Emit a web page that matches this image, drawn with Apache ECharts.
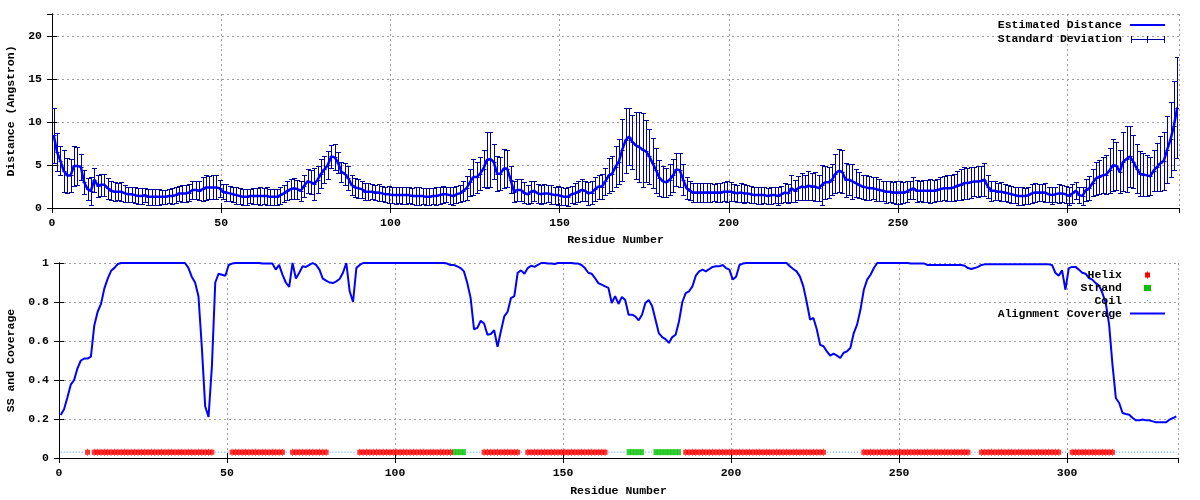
<!DOCTYPE html>
<html><head><meta charset="utf-8">
<script src="https://cdn.jsdelivr.net/npm/echarts@6/dist/echarts.min.js"></script>
<style>html,body{margin:0;padding:0;background:#fff}#c{width:1200px;height:500px}</style>
</head><body><div id="c"></div><script>
// Estimated distance per residue (residues 1..333)
const distance = [
8.5,6.5,5.5,4.3,3.8,3.8,4.9,4.9,4.8,3.0,
2.2,2.0,3.3,2.6,2.7,2.7,2.3,2.0,1.9,1.9,
1.9,1.7,1.6,1.6,1.5,1.4,1.4,1.5,1.3,1.3,
1.3,1.3,1.3,1.3,1.4,1.4,1.5,1.7,1.7,1.7,
1.8,2.1,2.1,2.0,2.2,2.4,2.4,2.4,2.4,2.3,
1.9,1.8,1.7,1.6,1.5,1.4,1.3,1.3,1.4,1.4,
1.4,1.4,1.4,1.4,1.3,1.3,1.3,1.5,1.7,2.0,
2.2,2.3,2.2,2.0,2.6,3.1,3.0,2.8,3.3,4.0,
4.5,5.0,6.0,5.9,5.3,4.2,4.0,3.5,2.7,2.4,
2.3,2.2,1.9,1.9,1.9,1.8,1.8,1.7,1.6,1.6,
1.5,1.5,1.5,1.5,1.5,1.5,1.4,1.4,1.4,1.4,
1.3,1.3,1.4,1.4,1.5,1.6,1.6,1.5,1.4,1.6,
1.7,2.0,2.3,3.0,3.6,3.6,4.0,4.6,5.6,5.7,
5.4,4.0,4.0,4.6,4.6,3.3,1.9,2.1,2.1,1.8,
1.6,1.9,2.0,1.7,1.6,1.7,1.7,1.6,1.5,1.5,
1.4,1.3,1.3,1.6,1.7,1.9,2.1,2.0,1.7,1.8,
2.2,2.5,2.5,3.1,3.8,4.0,4.8,5.4,6.8,7.9,
8.3,7.7,7.3,7.1,6.8,6.6,6.0,5.2,4.4,3.5,
3.1,3.0,3.3,3.8,4.5,4.4,3.3,2.3,2.0,1.8,
1.8,1.8,1.8,1.8,1.8,1.8,1.8,1.8,1.9,1.9,
1.9,1.8,1.7,1.8,1.7,1.7,1.6,1.5,1.5,1.5,
1.5,1.4,1.5,1.5,1.4,1.6,1.8,1.7,2.3,2.0,
2.3,2.5,2.4,2.6,2.5,2.5,2.3,2.7,3.0,3.0,
3.3,4.0,4.35,4.2,3.3,3.3,3.1,2.9,2.7,2.5,
2.4,2.3,2.3,2.2,2.1,2.0,1.9,1.9,1.8,1.8,
1.8,1.8,1.9,2.1,2.3,2.0,2.0,2.0,2.0,2.0,
2.0,2.1,2.2,2.3,2.3,2.3,2.4,2.6,2.7,2.9,
2.9,3.0,3.1,3.1,3.15,3.3,2.5,2.0,2.0,1.9,
1.9,1.8,1.7,1.6,1.5,1.4,1.4,1.4,1.5,1.7,
1.8,1.8,1.8,1.8,1.6,1.5,1.6,1.7,1.7,1.6,
1.4,1.7,2.0,1.5,1.4,2.1,2.3,2.95,3.45,3.65,
3.8,3.9,4.4,5.0,4.9,4.2,5.4,5.7,6.0,5.4,
4.6,4.0,3.9,3.8,3.7,4.35,4.8,5.2,5.5,6.8,
8.0,9.6,11.7
];
// Standard deviation per residue
const stdev = [
3.2,2.2,1.7,2.4,2.0,1.9,2.3,2.2,1.5,1.4,
1.3,1.6,1.4,1.3,1.3,1.3,1.2,1.1,1.1,1.0,
1.1,1.0,0.9,0.9,0.9,0.9,0.9,0.8,0.9,0.9,
0.9,0.9,0.8,0.8,0.8,0.9,0.9,0.9,1.0,1.0,
1.0,1.1,1.0,1.1,1.4,1.5,1.3,1.4,1.4,1.0,
0.9,1.0,0.9,0.9,1.0,0.9,0.9,0.9,0.8,0.9,
0.9,1.0,0.9,1.0,0.9,0.9,0.9,1.0,1.0,1.1,
1.2,1.2,1.1,1.2,1.3,1.4,1.4,1.9,1.6,1.7,
1.6,1.6,1.3,1.5,1.2,1.2,1.3,1.4,1.2,1.1,
1.1,1.0,1.0,1.0,0.9,0.9,1.0,0.9,0.9,1.0,
0.9,1.0,0.9,1.0,1.0,0.9,0.9,1.0,1.0,0.9,
1.0,1.0,0.9,1.1,1.0,1.0,0.9,1.0,1.1,1.0,
1.0,1.2,1.4,1.6,2.1,1.8,1.9,2.2,3.3,3.2,
2.0,2.0,1.9,2.3,2.2,1.6,1.2,1.3,1.3,1.2,
1.1,1.3,1.2,1.1,1.1,1.1,1.0,1.1,1.0,1.1,
1.1,1.0,1.1,1.0,1.2,1.2,1.3,1.2,1.3,1.3,
1.4,1.4,1.5,1.6,2.0,2.0,2.4,2.6,3.6,3.8,
3.3,3.1,3.9,4.1,4.3,3.6,3.2,2.9,2.6,2.1,
1.8,1.7,1.8,1.9,1.9,2.0,1.8,1.3,1.1,1.1,
1.1,1.1,1.1,1.1,1.1,1.0,1.1,1.1,1.1,1.2,
1.1,1.0,1.0,1.1,1.1,1.0,1.0,0.9,1.0,1.0,
0.9,0.9,1.0,0.9,1.0,1.0,1.1,1.1,1.6,1.3,
1.4,1.6,1.5,1.7,1.6,1.7,1.5,2.3,1.9,1.8,
1.8,2.3,2.5,2.5,2.0,1.8,2.0,1.6,1.5,1.4,
1.5,1.4,1.3,1.4,1.3,1.2,1.3,1.2,1.2,1.3,
1.3,1.2,1.2,1.1,1.3,1.3,1.2,1.3,1.3,1.4,
1.3,1.3,1.4,1.4,1.5,1.5,1.6,1.7,1.8,1.9,
1.8,1.8,1.7,1.8,1.8,1.9,1.3,1.2,1.1,1.0,
1.1,1.0,1.0,1.0,0.9,1.0,1.0,0.9,1.0,1.1,
1.1,1.0,1.0,1.1,0.9,1.0,0.9,1.1,1.0,1.0,
1.0,1.1,1.0,0.9,1.0,1.3,1.4,1.6,1.9,2.0,
2.1,2.3,2.6,3.0,2.8,2.5,3.4,3.8,3.6,3.1,
2.9,2.6,2.5,2.4,2.2,2.4,2.8,3.2,3.4,3.9,
4.4,5.2,5.9
];
// Alignment coverage per residue
const coverage = [
0.22,0.25,0.31,0.376,0.40,0.46,0.50,0.51,0.51,0.52,
0.68,0.75,0.79,0.87,0.92,0.96,0.975,0.995,1.0,1.0,
1.0,1.0,1.0,1.0,1.0,1.0,1.0,1.0,1.0,1.0,
1.0,1.0,1.0,1.0,1.0,1.0,1.0,1.0,0.975,0.93,
0.90,0.83,0.57,0.265,0.21,0.47,0.90,0.945,0.94,0.935,
0.99,0.997,1.0,1.0,1.0,1.0,1.0,1.0,1.0,1.0,
0.997,0.997,0.997,0.997,0.966,0.99,0.94,0.90,0.877,1.0,
0.92,0.95,0.983,0.98,0.99,1.0,0.99,0.966,0.92,0.91,
0.90,0.897,0.906,0.918,0.95,1.0,0.855,0.80,0.975,0.99,
1.0,1.0,1.0,1.0,1.0,1.0,1.0,1.0,1.0,1.0,
1.0,1.0,1.0,1.0,1.0,1.0,1.0,1.0,1.0,1.0,
1.0,1.0,1.0,1.0,1.0,0.997,0.99,0.99,0.983,0.974,
0.957,0.897,0.82,0.66,0.667,0.704,0.69,0.632,0.636,0.655,
0.57,0.65,0.726,0.75,0.82,0.83,0.95,0.962,0.945,0.974,
0.986,0.98,0.99,1.0,1.0,0.997,0.997,0.995,1.0,1.0,
1.0,1.0,1.0,0.997,0.997,0.99,0.974,0.95,0.945,0.923,
0.897,0.889,0.88,0.872,0.795,0.83,0.79,0.826,0.81,0.735,
0.735,0.726,0.706,0.735,0.795,0.81,0.78,0.71,0.64,0.62,
0.61,0.59,0.62,0.632,0.70,0.80,0.846,0.855,0.88,0.935,
0.957,0.966,0.957,0.969,0.98,0.983,0.983,0.99,0.974,0.966,
0.915,0.93,0.99,0.997,1.0,1.0,1.0,1.0,1.0,1.0,
1.0,1.0,1.0,1.0,1.0,1.0,1.0,0.983,0.969,0.957,
0.93,0.88,0.80,0.71,0.718,0.66,0.58,0.573,0.547,0.525,
0.535,0.525,0.513,0.54,0.547,0.564,0.64,0.684,0.76,0.863,
0.915,0.94,0.974,1.0,1.0,1.0,1.0,1.0,1.0,1.0,
1.0,1.0,1.0,0.997,0.997,0.997,0.997,0.997,0.99,0.99,
0.99,0.99,0.99,0.99,0.99,0.99,0.99,0.99,0.99,0.986,
0.974,0.969,0.974,0.98,0.99,0.993,0.993,0.993,0.993,0.993,
0.993,0.993,0.993,0.993,0.993,0.993,0.993,0.993,0.993,0.993,
0.993,0.993,0.993,0.993,0.993,0.99,0.95,0.935,0.962,0.863,
0.974,0.98,0.98,0.966,0.95,0.945,0.923,0.915,0.897,0.884,
0.846,0.795,0.684,0.479,0.308,0.282,0.231,0.226,0.222,0.205,
0.193,0.193,0.197,0.193,0.193,0.188,0.183,0.183,0.183,0.183,
0.197,0.205,0.214
];
// Secondary structure segments [first residue, last residue]
const helixRanges = [[9,9],[11,46],[52,67],[70,80],[90,117],[127,137],[140,163],[187,228],[240,271],[275,298],[302,314]];
const strandRanges = [[118,121],[170,174],[178,185]];
const ssLevel = 0.03;
const residueCount = 333;
// residues are drawn centred on their slot: residue n sits at n - 0.5 on the axis
const slot = (n) => n - 0.5;

// ---- build series data from the arrays ----
const distData = distance.map((v, i) => [slot(i + 1), v]);
const errData = distance.map((v, i) => [slot(i + 1), v - stdev[i], v + stdev[i], v]);
const covData = coverage.map((v, i) => [slot(i + 1), v]);
const ssType = new Array(residueCount + 1).fill('C');
helixRanges.forEach(([a, b]) => { for (let r = a; r <= b; r++) ssType[r] = 'H'; });
strandRanges.forEach(([a, b]) => { for (let r = a; r <= b; r++) ssType[r] = 'S'; });
const helixData = [], strandData = [], coilData = [];
for (let r = 1; r <= residueCount; r++) {
  if (ssType[r] === 'H') helixData.push([slot(r), ssLevel]);
  if (ssType[r] === 'S') strandData.push([slot(r), ssLevel]);
  coilData.push([slot(r), ssType[r] === 'C' ? ssLevel : '-']);
}

const FONT = 'Liberation Mono';
const txt = { fontFamily: FONT, fontSize: 11.5, fontWeight: 'bold', color: '#000' };
const gridLine = { show: true, lineStyle: { color: '#a0a0a0', width: 1, type: [2, 3] } };
const tickIn = { show: true, inside: true, length: 5, lineStyle: { color: '#000' } };
const axLine = { show: true, lineStyle: { color: '#000', width: 1 } };

function mainX(grid, name, gap) {
  return { type: 'value', gridIndex: grid, min: 0, max: residueCount, interval: 50,
    name: name, nameLocation: 'middle', nameGap: gap, nameTextStyle: txt,
    axisLine: axLine, axisTick: tickIn, splitLine: gridLine,
    axisLabel: Object.assign({ margin: 9, showMaxLabel: false }, txt) };
}
function mirrorX(grid) {
  return { type: 'value', gridIndex: grid, position: 'top', min: 0, max: residueCount, interval: 50,
    axisLine: axLine, axisTick: tickIn, splitLine: { show: false }, axisLabel: { show: false } };
}
function mainY(grid, min, max, interval, name, gap, showMax) {
  return { type: 'value', gridIndex: grid, min: min, max: max, interval: interval,
    name: name, nameLocation: 'middle', nameGap: gap, nameRotate: 90, nameTextStyle: txt,
    axisLine: axLine, axisTick: tickIn, splitLine: gridLine,
    axisLabel: Object.assign({ margin: 10, showMaxLabel: showMax }, txt) };
}
function mirrorY(grid, min, max, interval) {
  return { type: 'value', gridIndex: grid, position: 'right', min: min, max: max, interval: interval,
    axisLine: axLine, axisTick: tickIn, splitLine: { show: false }, axisLabel: { show: false } };
}

function renderErr(params, api) {
  const x = api.value(0);
  const a = api.coord([x, api.value(1)]);
  const b = api.coord([x, api.value(2)]);
  const c = api.coord([x, api.value(3)]);
  const X = Math.round(a[0]) + 0.5;
  const w = 2.5;
  const st = { stroke: '#00009c', lineWidth: 1, fill: null };
  const ya = Math.round(a[1]) + 0.5, yb = Math.round(b[1]) + 0.5, yc = Math.round(c[1]) + 0.5;
  return { type: 'group', children: [
    { type: 'line', shape: { x1: X, y1: ya, x2: X, y2: yb }, style: st },
    { type: 'line', shape: { x1: X - w, y1: ya, x2: X + w, y2: ya }, style: st },
    { type: 'line', shape: { x1: X - w, y1: yb, x2: X + w, y2: yb }, style: st },
    { type: 'line', shape: { x1: X - 2, y1: yc, x2: X + 2, y2: yc }, style: st }
  ] };
}

const helixSymbol = 'path://M0,1 L2,1 L2,0 L3,0 L3,1 L5,1 L5,6 L3,6 L3,7 L2,7 L2,6 L0,6 Z';
const helixPoly = (x, y) => [[0,1],[2,1],[2,0],[3,0],[3,1],[5,1],[5,6],[3,6],[3,7],[2,7],[2,6],[0,6]].map(p => [p[0] + x, p[1] + y]);

const legendText = (x, y, s) => ({ type: 'text', x: x, y: y, style: { text: s, textAlign: 'right', textVerticalAlign: 'middle',
  font: 'bold 11.5px "' + FONT + '"', fill: '#000' }, z: 100 });

const chart = echarts.init(document.getElementById('c'), null, { renderer: 'canvas' });
chart.setOption({
  animation: false,
  backgroundColor: '#fff',
  grid: [
    { left: 52, top: 14, width: 1127, height: 194, show: false, containLabel: false, outerBoundsMode: 'none' },
    { left: 59, top: 263, width: 1119, height: 195, show: false, containLabel: false, outerBoundsMode: 'none' }
  ],
  xAxis: [ mainX(0, 'Residue Number', 26), mirrorX(0), mainX(1, 'Residue Number', 27), mirrorX(1) ],
  yAxis: [ mainY(0, 0, 22.6, 5, 'Distance (Angstron)', 35, false), mirrorY(0, 0, 22.6, 5),
           mainY(1, 0, 1, 0.2, 'SS and Coverage', 41, true), mirrorY(1, 0, 1, 0.2) ],
  series: [
    { name: 'Standard Deviation', type: 'custom', xAxisIndex: 0, yAxisIndex: 0, data: errData,
      renderItem: renderErr, encode: { x: 0, y: [1, 2] }, clip: true, z: 2 },
    { name: 'Estimated Distance', type: 'line', xAxisIndex: 0, yAxisIndex: 0, data: distData,
      symbol: 'none', lineStyle: { color: '#0000ff', width: 2.5 }, z: 3 },
    { name: 'Coil', type: 'line', xAxisIndex: 2, yAxisIndex: 2, data: coilData, symbol: 'none',
      connectNulls: false, lineStyle: { color: '#2090ff', width: 1, type: [1, 2] }, z: 2 },
    { name: 'Strand', type: 'scatter', xAxisIndex: 2, yAxisIndex: 2, data: strandData,
      symbol: 'rect', symbolSize: [4, 6], itemStyle: { color: '#00c000' }, z: 3 },
    { name: 'Helix', type: 'scatter', xAxisIndex: 2, yAxisIndex: 2, data: helixData,
      symbol: helixSymbol, symbolSize: [5, 7], itemStyle: { color: '#ff0000' }, z: 4 },
    { name: 'Alignment Coverage', type: 'line', xAxisIndex: 2, yAxisIndex: 2, data: covData,
      symbol: 'none', lineStyle: { color: '#0000ff', width: 2 }, z: 5 }
  ],
  graphic: [
    legendText(1122, 25, 'Estimated Distance'),
    { type: 'line', shape: { x1: 1130, y1: 25, x2: 1165, y2: 25 }, style: { stroke: '#0000ff', lineWidth: 2 }, z: 100 },
    legendText(1122, 39, 'Standard Deviation'),
    { type: 'line', shape: { x1: 1131, y1: 39.5, x2: 1164, y2: 39.5 }, style: { stroke: '#00009c', lineWidth: 1 }, z: 100 },
    { type: 'line', shape: { x1: 1131.5, y1: 36, x2: 1131.5, y2: 43 }, style: { stroke: '#00009c', lineWidth: 1 }, z: 100 },
    { type: 'line', shape: { x1: 1164.5, y1: 36, x2: 1164.5, y2: 43 }, style: { stroke: '#00009c', lineWidth: 1 }, z: 100 },
    { type: 'line', shape: { x1: 1147.5, y1: 36, x2: 1147.5, y2: 43 }, style: { stroke: '#00009c', lineWidth: 1 }, z: 100 },
    legendText(1122, 275, 'Helix'),
    { type: 'polygon', shape: { points: helixPoly(1145, 271.5) }, style: { fill: '#ff0000' }, z: 100 },
    legendText(1122, 288, 'Strand'),
    { type: 'rect', shape: { x: 1144, y: 285, width: 7, height: 6 }, style: { fill: '#00c000' }, z: 100 },
    legendText(1122, 301, 'Coil'),
    { type: 'rect', shape: { x: 1147, y: 300, width: 1, height: 1 }, style: { fill: '#2090ff' }, z: 100 },
    legendText(1122, 314, 'Alignment Coverage'),
    { type: 'line', shape: { x1: 1130, y1: 313.5, x2: 1165, y2: 313.5 }, style: { stroke: '#0000ff', lineWidth: 2 }, z: 100 }
  ]
});
</script></body></html>
